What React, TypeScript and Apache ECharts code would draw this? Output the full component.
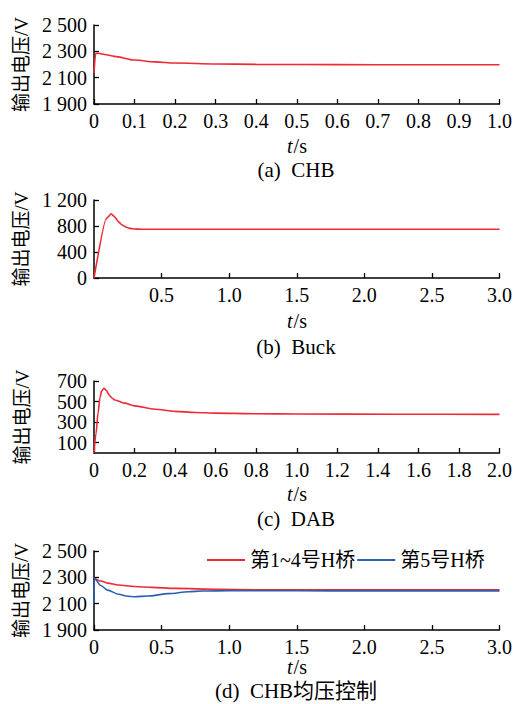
import React, { useEffect, useRef } from "react";
import * as echarts from "echarts";

// (a) CHB
const tA = [0, 0.004, 0.01, 0.03, 0.05, 0.1, 0.15, 0.2, 0.3, 0.4, 0.6, 0.8, 1.0];
const vA = [2133, 2283, 2286, 2274, 2262, 2234, 2220, 2211, 2204, 2201, 2199, 2198, 2198];
// (b) Buck
const tB = [0, 0.089, 0.105, 0.126, 0.15, 0.18, 0.205, 0.23, 0.255, 0.28, 0.32, 0.4, 1.0, 2.0, 3.0];
const vB = [0, 905, 940, 988, 945, 868, 820, 790, 768, 758, 752, 750, 750, 750, 750];
// (c) DAB
const tC = [0, 0.01, 0.02, 0.03, 0.038, 0.049, 0.062, 0.07, 0.079, 0.09, 0.103, 0.15, 0.2, 0.3, 0.4, 0.5, 0.6, 0.8, 1.0, 1.5, 2.0];
const vC = [0, 190, 390, 545, 605, 628, 606, 578, 554, 532, 516, 485, 458, 426, 405, 394, 388, 382, 379, 377, 376];
// (d) CHB voltage balance
const tD = [0, 0.05, 0.1, 0.18, 0.3, 0.43, 0.6, 0.92, 1.2, 1.5, 2.0, 3.0];
const vD1 = [2295, 2272, 2256, 2242, 2230, 2224, 2216, 2209, 2206, 2205, 2205, 2205];
const tD5 = [0, 0.003, 0.05, 0.1, 0.18, 0.25, 0.3, 0.4, 0.55, 0.7, 0.8, 1.0, 1.5, 2.0, 3.0];
const vD5 = [2103, 2292, 2238, 2203, 2172, 2156, 2153, 2158, 2176, 2190, 2196, 2199, 2198, 2197, 2197];

const yTicksA = [1900, 2100, 2300, 2500];
const yTicksC = [100, 300, 500, 700];
const yTicksD = [1900, 2100, 2300, 2500];
const xTicksB = [0.5, 1.0, 1.5, 2.0, 2.5, 3.0];

const legendNames = ["第1~4号H桥", "第5号H桥"];
const yTitle = "输出电压/V";
const captions = ["(a)  CHB", "(b)  Buck", "(c)  DAB", "(d)  CHB均压控制"];

const FONT = '"Liberation Serif", "Noto Sans CJK SC", serif';
const RED = "#ee2a36";
const BLUE = "#2e5fae";

const zip = (t: number[], v: number[]) => t.map((x, i) => [x, v[i]]);
const fmtY = (v: number) =>
  v >= 1000 ? `${Math.floor(v / 1000)} ${String(v % 1000).padStart(3, "0")}` : String(v);
const fmtX = (v: number) => (v === 0 ? "0" : v.toFixed(1));

export default function App() {
  const ref = useRef<HTMLDivElement>(null);
  useEffect(() => {
    if (!ref.current) return;
    const chart = echarts.init(ref.current, undefined, { renderer: "svg" });
    const grids = [
      { left: 94, top: 25, width: 406, height: 79 },
      { left: 94, top: 200, width: 406, height: 78 },
      { left: 94, top: 381, width: 406, height: 72 },
      { left: 94, top: 551, width: 406, height: 79 },
    ];
    const axisLine = { lineStyle: { color: "#000", width: 1.5 } };
    const axisTick = { inside: true, length: 5, lineStyle: { color: "#000", width: 1.3 } };
    const label = { color: "#000", fontFamily: FONT, fontSize: 20, lineHeight: 18 };
    const xBase = (i: number, max: number, interval: number, custom?: number[]) => ({
      type: "value",
      gridIndex: i,
      min: 0,
      max,
      interval,
      axisLine,
      axisTick: custom ? { ...axisTick, customValues: custom } : axisTick,
      axisLabel: custom
        ? { ...label, margin: 8, formatter: fmtX, customValues: custom }
        : { ...label, margin: 8, formatter: fmtX },
      splitLine: { show: false },
    });
    const yBase = (i: number, min: number, max: number, interval?: number, custom?: number[]) => ({
      type: "value",
      gridIndex: i,
      min,
      max,
      ...(interval ? { interval } : {}),
      axisLine: { show: true, ...axisLine },
      axisTick: custom ? { ...axisTick, customValues: custom } : axisTick,
      axisLabel: custom
        ? { ...label, margin: 7, formatter: fmtY, customValues: custom }
        : { ...label, margin: 7, formatter: fmtY },
      splitLine: { show: false },
      name: yTitle,
      nameLocation: "middle",
      nameGap: 62,
      nameTextStyle: { color: "#000", fontFamily: FONT, fontSize: 19 },
    });
    const lineSeries = (name: string, i: number, data: number[][], color: string) => ({
      type: "line",
      name,
      xAxisIndex: i,
      yAxisIndex: i,
      data,
      showSymbol: false,
      smooth: 0.3,
      smoothMonotone: "x",
      lineStyle: { color, width: 1.6 },
      itemStyle: { color },
    });
    const capY = [170, 347, 519, 691];
    const tsY = [146, 321, 494, 667];
    const graphic: any[] = [];
    capY.forEach((y, i) => {
      graphic.push({
        type: "text",
        x: 296,
        y,
        style: {
          text: captions[i],
          fontFamily: FONT,
          fontSize: 21,
          fill: "#000",
          align: "center",
          verticalAlign: "middle",
        },
      });
      graphic.push({
        type: "text",
        x: 297,
        y: tsY[i],
        style: {
          text: "{i|t}{n|/s}",
          fontFamily: FONT,
          fontSize: 20,
          lineHeight: 16,
          fill: "#000",
          align: "center",
          verticalAlign: "middle",
          rich: {
            i: { fontStyle: "italic", fontFamily: FONT, fontSize: 20, lineHeight: 16, padding: [0, 1, 0, 0] },
            n: { fontFamily: FONT, fontSize: 20, lineHeight: 16 },
          },
        },
      });
    });
    chart.setOption({
      animation: false,
      backgroundColor: "#fff",
      grid: grids,
      xAxis: [
        xBase(0, 1, 0.1),
        xBase(1, 3, 0.5, xTicksB),
        xBase(2, 2, 0.2),
        xBase(3, 3, 0.5),
      ],
      yAxis: [
        yBase(0, 1900, 2500, undefined, yTicksA),
        yBase(1, 0, 1200, 400),
        yBase(2, 0, 700, undefined, yTicksC),
        yBase(3, 1900, 2500, undefined, yTicksD),
      ],
      legend: {
        left: 202,
        top: 545,
        itemWidth: 38,
        itemHeight: 2,
        itemGap: 2,
        icon: "rect",
        data: legendNames,
        textStyle: { color: "#000", fontFamily: FONT, fontSize: 20 },
      },
      graphic,
      series: [
        lineSeries("a", 0, zip(tA, vA), RED),
        { ...lineSeries("b", 1, zip(tB, vB), RED), smooth: 0.15 },
        lineSeries("c", 2, zip(tC, vC), RED),
        lineSeries(legendNames[0], 3, zip(tD, vD1), RED),
        lineSeries(legendNames[1], 3, zip(tD5, vD5), BLUE),
      ],
    });
    return () => chart.dispose();
  }, []);
  return (
    <div
      ref={ref}
      style={{ position: "absolute", left: 0, top: 0, width: 515, height: 704 }}
    />
  );
}
